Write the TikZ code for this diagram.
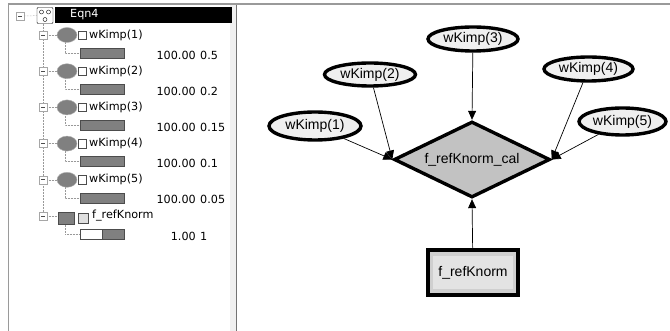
\documentclass[tikz,border=0pt]{standalone}
\usepackage{fontspec}
\setmainfont{Liberation Sans}
\newfontfamily\treefont{DejaVu Sans}
\usetikzlibrary{arrows.meta,positioning,shapes.geometric,calc}
\definecolor{barfill}{HTML}{808080}
\definecolor{ovalfill}{HTML}{EFEFEF}
\definecolor{calcfill}{HTML}{C2C2C2}
\definecolor{panelline}{HTML}{9A9A9A}

\begin{document}
\begin{tikzpicture}[x=1pt, y=-1pt,
  every node/.style={inner sep=0pt},
  treetext/.style={font=\treefont\fontsize{11.2}{13}\selectfont, anchor=west},
  minusbox/.style={draw=gray!70, fill=white, minimum size=8pt,
    path picture={\draw[black!70, line width=0.8pt]
      ([xshift=2pt]path picture bounding box.west) --
      ([xshift=-2pt]path picture bounding box.east);}},
  conn/.style={densely dotted, gray!80, line width=0.5pt},
  varblob/.style={ellipse, draw=gray!60, fill=barfill, minimum width=20pt, minimum height=15pt},
  chk/.style={draw=black!70, fill=white, minimum size=8.5pt},
  barbox/.style={draw=black!70, fill=barfill, minimum width=44pt, minimum height=10pt},
  oval/.style={ellipse, draw, line width=3.4pt, fill=ovalfill, font=\fontsize{14}{16}\selectfont},
  arr/.style={-{Triangle[length=9pt,width=8pt]}, line width=0.7pt}
]
\useasboundingbox (0,0) rectangle (670,331);
\fill[white] (0,0) rectangle (670,331);

% window frame
\draw[panelline, line width=2pt] (8,4) -- (670,4);
\draw[panelline, line width=1pt] (8.5,4) -- (8.5,331);
\fill[gray!12] (230,5) rectangle (236,331);
\draw[black!55, line width=1pt] (236.5,5) -- (236.5,331);

% tree header
\fill[black] (55,7) rectangle (232,23);
\node[minusbox] (rootmin) at (20,16) {};
\node[draw, fill=white, minimum size=16pt, rounded corners=1pt] (face) at (45,15.5) {};
\draw (41.5,12) circle (2) (48.5,12) circle (2) (45,19.5) circle (2);
\draw[conn] (rootmin) -- (face);
\node[treetext, text=white] (root) at (70,15) {Eqn4};
\draw[conn] (43,24) -- (43,216);

\foreach \i/\v in {1/0.5, 2/0.2, 3/0.15, 4/0.1, 5/0.05} {
  \pgfmathsetmacro\ry{35+36.2*(\i-1)}
  \pgfmathsetmacro\by{\ry+18}
  \draw[conn] (47,\ry) -- (57,\ry);
  \draw[conn] (65,\ry+7) -- (65,\by) -- (80,\by);
  \node[minusbox] (min\i) at (43,\ry) {};
  \node[varblob] (blob\i) at (67,\ry) {};
  \node[chk] (chk\i) at (82,\ry) {};
  \node[treetext] (lab\i) at (89,\ry) {wKimp(\i)};
  \node[barbox, anchor=west] (bar\i) at (80,\by) {};
  \node[treetext, anchor=east] (num\i) at (196,\by+2) {100.00};
  \node[treetext] (val\i) at (200,\by+2) {\v};
}

\draw[conn] (47,216) -- (57,216);
\draw[conn] (65,222) -- (65,234) -- (80,234);
\node[minusbox] (min6) at (43,216) {};
\node[draw=black!70, fill=barfill, minimum width=16pt, minimum height=12pt] (fsq) at (66,218.5) {};
\node[draw=black!70, fill=gray!25, minimum width=10pt, minimum height=10pt] (fchk) at (83.5,218.5) {};
\node[treetext] (flab) at (92,216) {f\_refKnorm};
\node[draw=black!70, fill=white, minimum width=22pt, minimum height=10pt, anchor=west] (fbarl) at (80,234) {};
\node[draw=black!70, fill=barfill, minimum width=22pt, minimum height=10pt, anchor=west] (fbarr) at (102,234) {};
\node[treetext, anchor=east] (fnum) at (196,236) {1.00};
\node[treetext] (fval) at (200,236) {1};

% network
\node[oval, minimum width=90pt, minimum height=24pt] (w3) at (473,39) {wKimp(3)};
\node[oval, minimum width=91pt, minimum height=23pt] (w2) at (370,74.5) {wKimp(2)};
\node[oval, minimum width=89pt, minimum height=24pt] (w4) at (588.5,69) {wKimp(4)};
\node[oval, minimum width=92pt, minimum height=28pt] (w1) at (315,126) {wKimp(1)};
\node[oval, minimum width=87pt, minimum height=27pt] (w5) at (622.5,121.5) {wKimp(5)};

\node[diamond, aspect=2, draw, line width=3.4pt, fill=calcfill,
  minimum width=156pt, minimum height=76pt, font=\fontsize{14}{16}\selectfont]
  (calc) at (472,159.5) {f\_refKnorm\_cal};

\node[draw, line width=4.5pt, fill=gray!38, minimum width=90pt, minimum height=45pt,
  font=\fontsize{14}{16}\selectfont,
  path picture={\fill[gray!22]
    ([shift={(5pt,-6pt)}]path picture bounding box.north west) rectangle
    ([shift={(-5pt,6pt)}]path picture bounding box.south east);}]
  (fref) at (473,272.5) {f\_refKnorm};

\foreach \a/\b in {w1/west, w2/west, w3/north, w4/east, w5/east}
  \draw[arr] (\a) -- (calc.\b);
\draw[arr] (fref) -- (calc.south);
\end{tikzpicture}
\end{document}
